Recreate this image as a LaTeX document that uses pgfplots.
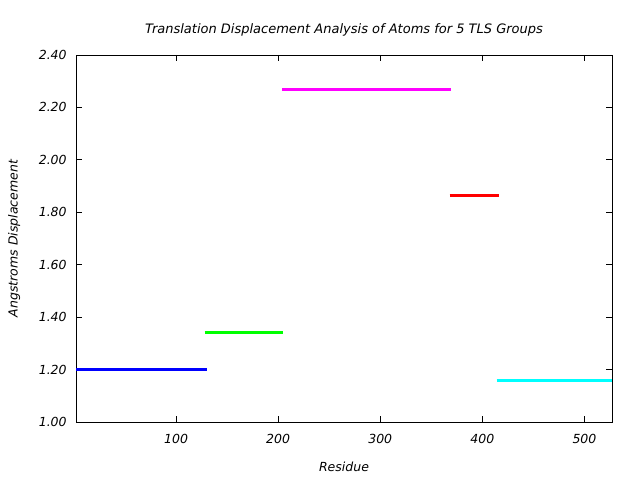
\documentclass[border=0pt]{standalone}
\usepackage{pgfplots}
\pgfplotsset{compat=1.18}
\usepackage{fontspec}
\setmainfont{DejaVu Sans}
\definecolor{gpblue}{RGB}{0,0,255}
\definecolor{gpgreen}{RGB}{0,255,0}
\definecolor{gpmagenta}{RGB}{255,0,255}
\definecolor{gpred}{RGB}{255,0,0}
\definecolor{gpcyan}{RGB}{0,255,255}
\begin{document}
\fontsize{12.5bp}{15bp}\selectfont\itshape
\begin{tikzpicture}
\path[use as bounding box] (-76bp,-58bp) rectangle (564bp,422bp);
\begin{axis}[
  at={(0,0)}, anchor=south west,
  scale only axis,
  width=536bp, height=367bp,
  xmin=2, xmax=527,
  ymin=1, ymax=2.4,
  xtick={100,200,300,400,500},
  ytick={1,1.2,1.4,1.6,1.8,2.0,2.2,2.4},
  yticklabel style={/pgf/number format/fixed, /pgf/number format/fixed zerofill,
    /pgf/number format/precision=2, xshift=-5bp},
  /pgf/number format/assume math mode=true,
  tick align=inside,
  major tick length=6bp,
  axis line style={line width=0.8bp},
  tick style={line width=0.8bp, black},
  xticklabel style={yshift=-8bp},
  title={Translation Displacement Analysis of Atoms for 5 TLS Groups},
  title style={font=\fontsize{13bp}{15bp}\selectfont\itshape, yshift=8bp},
  xlabel={Residue},
  ylabel={Angstroms Displacement},
  xlabel style={yshift=-10bp},
  ylabel style={yshift=10bp},
  every axis plot/.append style={line width=3bp, no marks},
]
\addplot[gpblue] coordinates {(2,1.20) (130,1.20)};
\addplot[gpgreen] coordinates {(128,1.34) (205,1.34)};
\addplot[gpmagenta] coordinates {(204,2.27) (369,2.27)};
\addplot[gpred] coordinates {(368,1.865) (416,1.865)};
\addplot[gpcyan] coordinates {(414,1.16) (527,1.16)};
\end{axis}
\end{tikzpicture}
\end{document}
